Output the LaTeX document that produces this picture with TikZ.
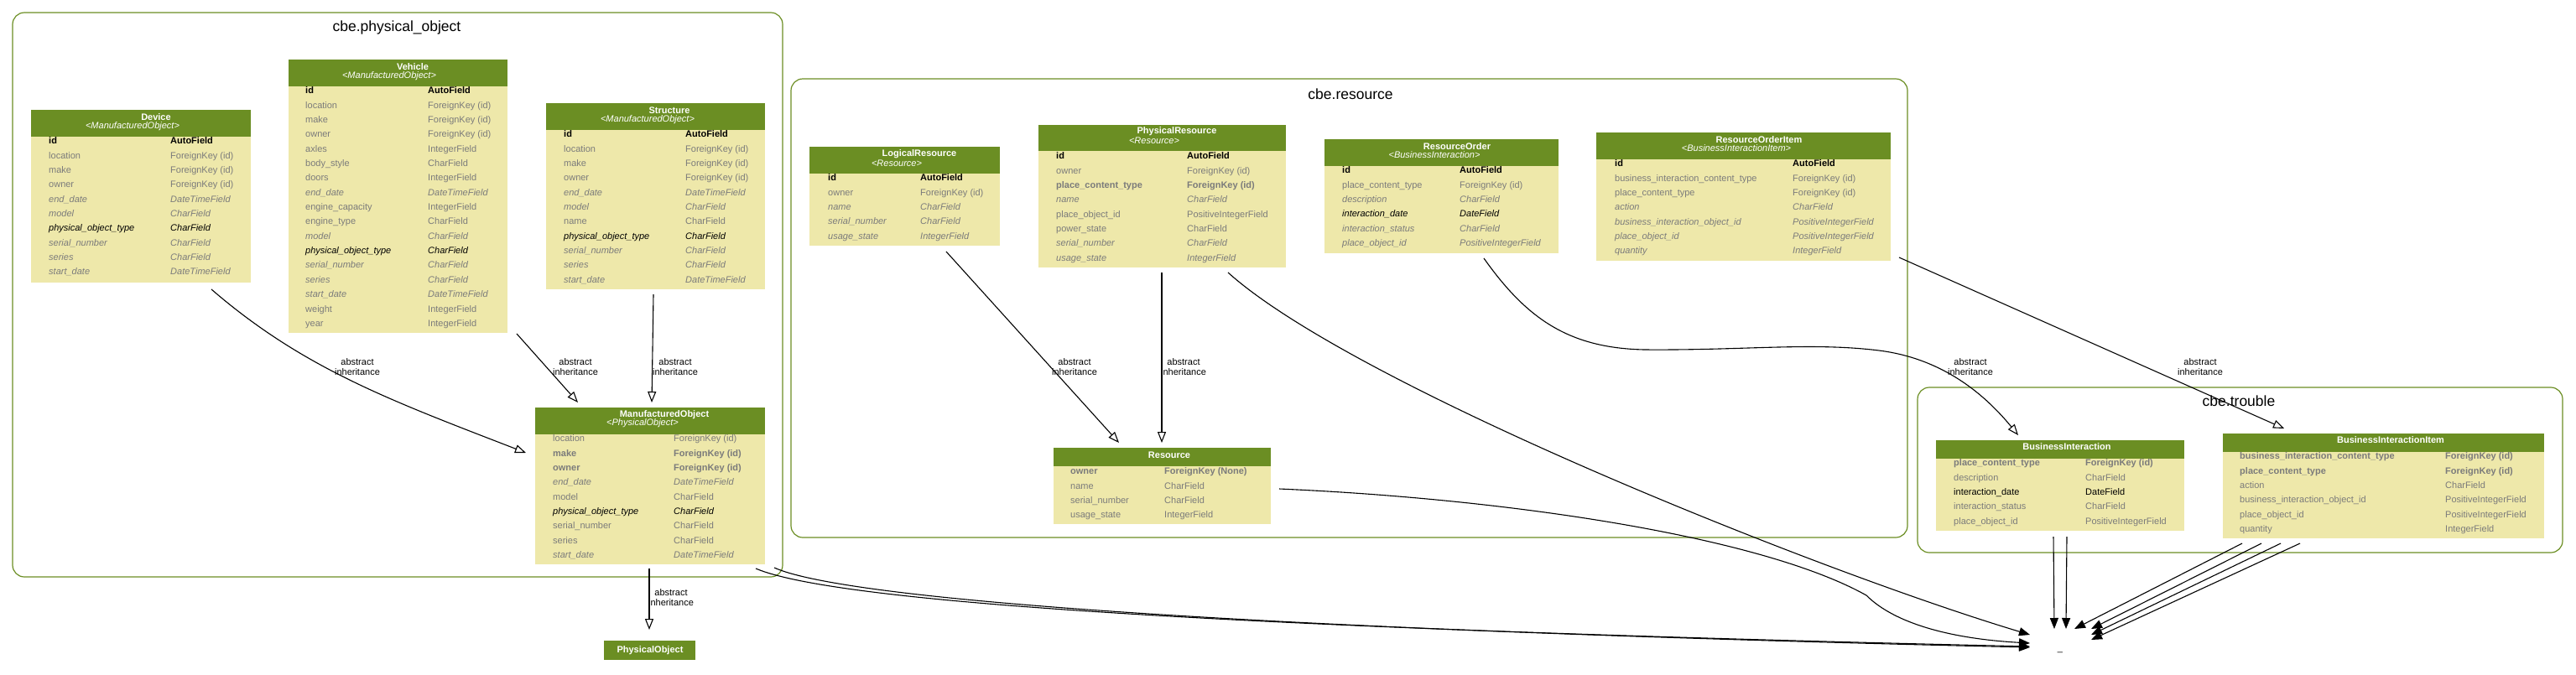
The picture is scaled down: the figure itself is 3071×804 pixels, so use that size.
\documentclass[tikz,border=0pt]{standalone}
\usepackage{fontspec}
\setmainfont{Liberation Sans}
\usetikzlibrary{arrows.meta,calc}
\definecolor{hdrc}{HTML}{6B8E23}
\definecolor{bodyc}{HTML}{EEE8AA}
\definecolor{fgrey}{HTML}{7B7B7B}
\definecolor{clusc}{HTML}{6B8E23}
\newcommand\fs{\fontsize{11}{12}\selectfont}
\newcommand\cxa{0}
\newcommand\cxb{0}
\newcommand\ry{0}
\newcommand\frow[4]{\node[fld,#2] at (\cxa,{\ry+#1*17.35}) {#3};\node[fld,#2] at (\cxb,{\ry+#1*17.35}) {#4};}
\newcommand\mktable[6]{%
  \node[tbody, minimum width={(#4-#2)*1pt}, minimum height={(#5-#3)*1pt}] (#1) at (#2,#3) {};
  \fill[hdrc] (#2,#3) rectangle (#4,#6);}
\tikzset{
  tbody/.style={fill=bodyc, inner sep=0pt, outer sep=0pt, anchor=north west, draw=none},
  fld/.style={anchor=west, inner sep=0pt, font=\fs, text height=8pt, text depth=2.5pt},
  fpk/.style={font=\fs\bfseries, text=black},
  fg/.style={text=fgrey},
  fgi/.style={text=fgrey, font=\fs\itshape},
  fbi/.style={text=black, font=\fs\itshape},
  fgb/.style={text=fgrey, font=\fs\bfseries},
  fb/.style={text=black},
  ttl/.style={text=white, font=\fs\bfseries, inner sep=0pt},
  hsub/.style={text=white, font=\fs\itshape, inner sep=0pt},
  ctitle/.style={font=\fontsize{17.5}{20}\selectfont, inner sep=0pt},
  clusterbox/.style={draw=clusc, line width=1.2pt, rounded corners=14pt, inner sep=0pt, outer sep=0pt, anchor=north west},
  lbl/.style={font=\fs, align=center, inner sep=0pt},
  inh/.style={line width=1.1pt, -{Triangle[open, length=13pt, width=10pt]}},
  fk/.style={line width=1.1pt, -{Triangle[length=13pt, width=10pt]}},
}
\begin{document}
\begin{tikzpicture}[x=1pt,y=-1pt]
\useasboundingbox (0,0) rectangle (3071,804);
% clusters
\node[clusterbox, minimum width=918pt, minimum height=673pt] (cpo) at (15,15) {};
\node[ctitle] (cpot) at (473,33) {cbe.physical\_object};
\node[clusterbox, minimum width=1331pt, minimum height=547pt] (cres) at (943,94) {};
\node[ctitle] (crest) at (1610,112) {cbe.resource};
\node[clusterbox, minimum width=769pt, minimum height=197pt] (ctr) at (2286,462) {};
\node[ctitle] (ctrt) at (2669,478) {cbe.trouble};

% Device
\mktable{dev}{37}{131}{299}{337}{163}
\node[ttl] at (186,140) {Device};
\node[hsub] at (158,151) {<ManufacturedObject>};
\renewcommand\cxa{58}\renewcommand\cxb{203}\renewcommand\ry{169}
\frow{0}{fpk}{id}{AutoField}
\frow{1}{fg}{location}{ForeignKey (id)}
\frow{2}{fg}{make}{ForeignKey (id)}
\frow{3}{fg}{owner}{ForeignKey (id)}
\frow{4}{fgi}{end\_date}{DateTimeField}
\frow{5}{fgi}{model}{CharField}
\frow{6}{fbi}{physical\_object\_type}{CharField}
\frow{7}{fgi}{serial\_number}{CharField}
\frow{8}{fgi}{series}{CharField}
\frow{9}{fgi}{start\_date}{DateTimeField}

% Vehicle
\mktable{veh}{344}{71}{605}{397}{103}
\node[ttl] at (492,80) {Vehicle};
\node[hsub] at (464,91) {<ManufacturedObject>};
\renewcommand\cxa{364}\renewcommand\cxb{510}\renewcommand\ry{109}
\frow{0}{fpk}{id}{AutoField}
\frow{1}{fg}{location}{ForeignKey (id)}
\frow{2}{fg}{make}{ForeignKey (id)}
\frow{3}{fg}{owner}{ForeignKey (id)}
\frow{4}{fg}{axles}{IntegerField}
\frow{5}{fg}{body\_style}{CharField}
\frow{6}{fg}{doors}{IntegerField}
\frow{7}{fgi}{end\_date}{DateTimeField}
\frow{8}{fg}{engine\_capacity}{IntegerField}
\frow{9}{fg}{engine\_type}{CharField}
\frow{10}{fgi}{model}{CharField}
\frow{11}{fbi}{physical\_object\_type}{CharField}
\frow{12}{fgi}{serial\_number}{CharField}
\frow{13}{fgi}{series}{CharField}
\frow{14}{fgi}{start\_date}{DateTimeField}
\frow{15}{fg}{weight}{IntegerField}
\frow{16}{fg}{year}{IntegerField}

% Structure
\mktable{str}{651}{123}{912}{345}{155}
\node[ttl] at (798,132) {Structure};
\node[hsub] at (772,143) {<ManufacturedObject>};
\renewcommand\cxa{672}\renewcommand\cxb{817}\renewcommand\ry{161}
\frow{0}{fpk}{id}{AutoField}
\frow{1}{fg}{location}{ForeignKey (id)}
\frow{2}{fg}{make}{ForeignKey (id)}
\frow{3}{fg}{owner}{ForeignKey (id)}
\frow{4}{fgi}{end\_date}{DateTimeField}
\frow{5}{fgi}{model}{CharField}
\frow{6}{fg}{name}{CharField}
\frow{7}{fbi}{physical\_object\_type}{CharField}
\frow{8}{fgi}{serial\_number}{CharField}
\frow{9}{fgi}{series}{CharField}
\frow{10}{fgi}{start\_date}{DateTimeField}

% ManufacturedObject
\mktable{mo}{638}{486}{912}{673}{518}
\node[ttl] at (792,495) {ManufacturedObject};
\node[hsub] at (766,505) {<PhysicalObject>};
\renewcommand\cxa{659}\renewcommand\cxb{803}\renewcommand\ry{524}
\frow{0}{fg}{location}{ForeignKey (id)}
\frow{1}{fgb}{make}{ForeignKey (id)}
\frow{2}{fgb}{owner}{ForeignKey (id)}
\frow{3}{fgi}{end\_date}{DateTimeField}
\frow{4}{fg}{model}{CharField}
\frow{5}{fbi}{physical\_object\_type}{CharField}
\frow{6}{fg}{serial\_number}{CharField}
\frow{7}{fg}{series}{CharField}
\frow{8}{fgi}{start\_date}{DateTimeField}

% PhysicalObject
\node[tbody, fill=hdrc, minimum width=109pt, minimum height=23pt] (po) at (720,764) {};
\node[ttl] at (775,775.5) {PhysicalObject};

% LogicalResource
\mktable{lr}{965}{175}{1192}{293}{207}
\node[ttl] at (1096,184) {LogicalResource};
\node[hsub] at (1069,195) {<Resource>};
\renewcommand\cxa{987}\renewcommand\cxb{1097}\renewcommand\ry{213}
\frow{0}{fpk}{id}{AutoField}
\frow{1}{fg}{owner}{ForeignKey (id)}
\frow{2}{fgi}{name}{CharField}
\frow{3}{fgi}{serial\_number}{CharField}
\frow{4}{fgi}{usage\_state}{IntegerField}

% PhysicalResource
\mktable{pr}{1238}{149}{1533}{319}{180}
\node[ttl] at (1403,157) {PhysicalResource};
\node[hsub] at (1376,168) {<Resource>};
\renewcommand\cxa{1259}\renewcommand\cxb{1415}\renewcommand\ry{187}
\frow{0}{fpk}{id}{AutoField}
\frow{1}{fg}{owner}{ForeignKey (id)}
\frow{2}{fgb}{place\_content\_type}{ForeignKey (id)}
\frow{3}{fgi}{name}{CharField}
\frow{4}{fg}{place\_object\_id}{PositiveIntegerField}
\frow{5}{fg}{power\_state}{CharField}
\frow{6}{fgi}{serial\_number}{CharField}
\frow{7}{fgi}{usage\_state}{IntegerField}

% Resource
\mktable{res}{1256}{534}{1515}{625}{556}
\node[ttl] at (1394,543) {Resource};
\renewcommand\cxa{1276}\renewcommand\cxb{1388}\renewcommand\ry{563}
\frow{0}{fgb}{owner}{ForeignKey (None)}
\frow{1}{fg}{name}{CharField}
\frow{2}{fg}{serial\_number}{CharField}
\frow{3}{fg}{usage\_state}{IntegerField}

% ResourceOrder
\mktable{ro}{1579}{166}{1858}{302}{198}
\node[ttl] at (1737,175) {ResourceOrder};
\node[hsub] at (1710,185) {<BusinessInteraction>};
\renewcommand\cxa{1600}\renewcommand\cxb{1740}\renewcommand\ry{204}
\frow{0}{fpk}{id}{AutoField}
\frow{1}{fg}{place\_content\_type}{ForeignKey (id)}
\frow{2}{fgi}{description}{CharField}
\frow{3}{fbi}{interaction\_date}{DateField}
\frow{4}{fgi}{interaction\_status}{CharField}
\frow{5}{fgi}{place\_object\_id}{PositiveIntegerField}

% ResourceOrderItem
\mktable{roi}{1903}{158}{2254}{311}{190}
\node[ttl] at (2097,167) {ResourceOrderItem};
\node[hsub] at (2070,177) {<BusinessInteractionItem>};
\renewcommand\cxa{1925}\renewcommand\cxb{2137}\renewcommand\ry{196}
\frow{0}{fpk}{id}{AutoField}
\frow{1}{fg}{business\_interaction\_content\_type}{ForeignKey (id)}
\frow{2}{fg}{place\_content\_type}{ForeignKey (id)}
\frow{3}{fgi}{action}{CharField}
\frow{4}{fgi}{business\_interaction\_object\_id}{PositiveIntegerField}
\frow{5}{fgi}{place\_object\_id}{PositiveIntegerField}
\frow{6}{fgi}{quantity}{IntegerField}

% BusinessInteraction
\mktable{bi}{2308}{525}{2604}{633}{547}
\node[ttl] at (2464,533) {BusinessInteraction};
\renewcommand\cxa{2329}\renewcommand\cxb{2486}\renewcommand\ry{553}
\frow{0}{fgb}{place\_content\_type}{ForeignKey (id)}
\frow{1}{fg}{description}{CharField}
\frow{2}{fb}{interaction\_date}{DateField}
\frow{3}{fg}{interaction\_status}{CharField}
\frow{4}{fg}{place\_object\_id}{PositiveIntegerField}

% BusinessInteractionItem
\mktable{bii}{2650}{517}{3033}{642}{539}
\node[ttl] at (2850,525) {BusinessInteractionItem};
\renewcommand\cxa{2670}\renewcommand\cxb{2915}\renewcommand\ry{545}
\frow{0}{fgb}{business\_interaction\_content\_type}{ForeignKey (id)}
\frow{1}{fgb}{place\_content\_type}{ForeignKey (id)}
\frow{2}{fg}{action}{CharField}
\frow{3}{fg}{business\_interaction\_object\_id}{PositiveIntegerField}
\frow{4}{fg}{place\_object\_id}{PositiveIntegerField}
\frow{5}{fg}{quantity}{IntegerField}

% the "_" node
\node[font=\fs, inner sep=0pt, anchor=base] (us) at (2456,776) {\_};

% inheritance edges
\draw[inh] ($(dev.south west)+(215,8)$) .. controls (362,440) and (467,478) .. ($(mo.north west)+(-11,54)$);
\node[lbl] (l1) at (426,437.5) {abstract\\inheritance};
\draw[inh] ($(veh.south west)+(272,1)$) -- ($(mo.north west)+(51,-6)$);
\node[lbl] (l2) at (686,437.5) {abstract\\inheritance};
\draw[inh] ($(str.south west)+(128,6)$) -- ($(mo.north west)+(139,-6)$);
\node[lbl] (l3) at (805,437.5) {abstract\\inheritance};
\draw[inh] ($(mo.south west)+(136,5)$) -- ($(po.north west)+(54,-13)$);
\node[lbl] (l4) at (800,713) {abstract\\inheritance};
\draw[inh] ($(lr.south west)+(163,7)$) -- ($(res.north west)+(78,-6)$);
\node[lbl] (l5) at (1281,437.5) {abstract\\inheritance};
\draw[inh] ($(pr.south west)+(147,6)$) -- ($(res.north west)+(129,-6)$);
\node[lbl] (l6) at (1411,437.5) {abstract\\inheritance};
\draw[inh] ($(ro.south west)+(190,6)$) .. controls (1820,380) and (1870,415) .. (1960,417)
   .. controls (2080,418) and (2160,408) .. (2240,418)
   .. controls (2320,428) and (2370,475) .. ($(bi.north west)+(98,-6)$);
\node[lbl] (l7) at (2349,437.5) {abstract\\inheritance};
\draw[inh] ($(roi.south east)+(10,-4)$) -- ($(bii.north west)+(73,-6)$);
\node[lbl] (l8) at (2623,437.5) {abstract\\inheritance};

% foreign key edges into "_"
\draw[fk] ($(mo.south west)+(263,5)$) .. controls (1000,720) and (1500,750) .. ($(us.base)+(-36,-5)$);
\draw[fk] ($(mo.south east)+(11,4)$) .. controls (1010,716) and (1500,751) .. ($(us.base)+(-36,-4)$);
\draw[fk] ($(pr.south west)+(226,6)$) .. controls (1614,460) and (2170,682) .. ($(us.base)+(-36,-19)$);
\draw[fk] ($(res.north east)+(10,49)$) .. controls (1800,595) and (2100,640) .. (2225,710)
   .. controls (2260,745) and (2330,762) .. ($(us.base)+(-36,-9)$);
\draw[fk] ($(bi.south west)+(140,7)$) -- ($(us.base)+(-7,-26)$);
\draw[fk] ($(bi.south west)+(156,7)$) -- ($(us.base)+(7,-26)$);
\draw[fk] ($(bii.south west)+(23,6)$) -- ($(us.base)+(17,-26)$);
\draw[fk] ($(bii.south west)+(46,6)$) -- ($(us.base)+(37,-26)$);
\draw[fk] ($(bii.south west)+(69,6)$) -- ($(us.base)+(37,-19)$);
\draw[fk] ($(bii.south west)+(92,6)$) -- ($(us.base)+(37,-13)$);
\end{tikzpicture}
\end{document}
